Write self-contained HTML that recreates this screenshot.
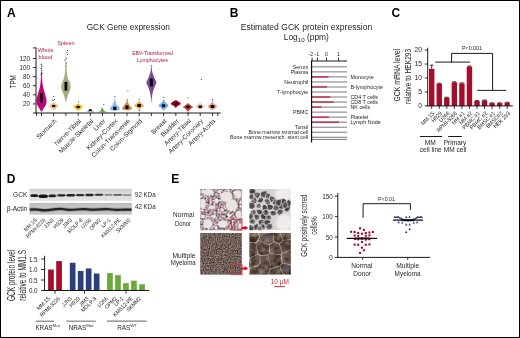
<!DOCTYPE html>
<html lang="en"><head><meta charset="utf-8"><title>GCK expression figure</title>
<style>
html,body{margin:0;padding:0;background:#fff;}
body{width:520px;height:338px;overflow:hidden;position:relative;}
svg{position:absolute;left:0;top:0;display:block;}
svg text{font-family:"Liberation Sans",sans-serif;}
</style></head><body>
<svg width="520" height="338" viewBox="0 0 520 338">
<rect x="0.5" y="0.5" width="519" height="337" fill="#fff" stroke="#000" stroke-width="1"/>
<g fill="#231f20">
<g id="pA">
<text x="6.90" y="16.60" font-size="12" fill="#000" font-weight="bold">A</text>
<text x="128.30" y="29.50" font-size="8.5" text-anchor="middle" textLength="83.3" lengthAdjust="spacingAndGlyphs">GCK Gene expression</text>
<path d="M41.65 63.50C41.72 64.92 41.71 69.25 41.80 72.00C41.89 74.75 41.98 77.50 42.20 80.00C42.42 82.50 42.62 84.67 43.10 87.00C43.58 89.33 44.52 91.75 45.10 94.00C45.68 96.25 46.50 98.67 46.60 100.50C46.70 102.33 46.25 103.58 45.70 105.00C45.15 106.42 43.97 107.87 43.30 109.00C42.62 110.13 41.97 111.33 41.65 111.80C41.33 112.27 41.67 112.27 41.35 111.80C41.03 111.33 40.38 110.13 39.70 109.00C39.03 107.87 37.85 106.42 37.30 105.00C36.75 103.58 36.30 102.33 36.40 100.50C36.50 98.67 37.32 96.25 37.90 94.00C38.48 91.75 39.42 89.33 39.90 87.00C40.38 84.67 40.58 82.50 40.80 80.00C41.02 77.50 41.11 74.75 41.20 72.00C41.29 69.25 41.28 64.92 41.35 63.50C41.42 62.08 41.58 62.08 41.65 63.50Z" fill="#c4007a"/>
<rect x="40.10" y="93.00" width="2.80" height="9.80" fill="#000" />
<path d="M53.91 102.20C54.38 102.50 55.53 103.37 56.31 104.00C57.09 104.63 58.58 105.33 58.61 106.00C58.64 106.67 57.29 107.33 56.51 108.00C55.73 108.67 54.41 109.67 53.91 110.00C53.41 110.33 54.01 110.33 53.51 110.00C53.01 109.67 51.69 108.67 50.91 108.00C50.13 107.33 48.78 106.67 48.81 106.00C48.84 105.33 50.33 104.63 51.11 104.00C51.89 103.37 53.04 102.50 53.51 102.20C53.98 101.90 53.44 101.90 53.91 102.20Z" fill="#f7c58c"/>
<rect x="52.11" y="104.90" width="3.20" height="2.20" fill="#000" />
<path d="M66.04 50.50C66.11 52.08 66.11 56.75 66.22 60.00C66.33 63.25 66.44 67.17 66.67 70.00C66.90 72.83 67.15 75.00 67.62 77.00C68.09 79.00 69.00 80.42 69.52 82.00C70.04 83.58 70.65 85.08 70.72 86.50C70.79 87.92 70.37 89.08 69.92 90.50C69.47 91.92 68.66 93.12 68.02 95.00C67.38 96.88 66.45 100.67 66.07 101.80C65.70 102.93 66.14 102.93 65.77 101.80C65.39 100.67 64.46 96.88 63.82 95.00C63.18 93.12 62.37 91.92 61.92 90.50C61.47 89.08 61.05 87.92 61.12 86.50C61.19 85.08 61.80 83.58 62.32 82.00C62.84 80.42 63.74 79.00 64.22 77.00C64.69 75.00 64.94 72.83 65.17 70.00C65.40 67.17 65.52 63.25 65.62 60.00C65.73 56.75 65.73 52.08 65.80 50.50C65.87 48.92 65.97 48.92 66.04 50.50Z" fill="#a3b07c"/>
<rect x="64.52" y="81.80" width="2.80" height="8.80" fill="#000" />
<path d="M78.33 103.40C78.80 103.67 79.95 104.40 80.73 105.00C81.51 105.60 83.03 106.33 83.03 107.00C83.03 107.67 81.51 108.37 80.73 109.00C79.95 109.63 78.80 110.50 78.33 110.80C77.86 111.10 78.40 111.10 77.93 110.80C77.46 110.50 76.31 109.63 75.53 109.00C74.75 108.37 73.23 107.67 73.23 107.00C73.23 106.33 74.75 105.60 75.53 105.00C76.31 104.40 77.46 103.67 77.93 103.40C78.40 103.13 77.86 103.13 78.33 103.40Z" fill="#f2c21c"/>
<rect x="76.53" y="105.90" width="3.20" height="2.20" fill="#000" />
<path d="M90.64 109.60C91.09 109.80 92.06 110.40 92.74 110.80C93.42 111.20 94.41 111.75 94.74 112.00C95.07 112.25 96.21 112.25 94.74 112.30C93.27 112.35 87.41 112.35 85.94 112.30C84.47 112.25 85.61 112.25 85.94 112.00C86.27 111.75 87.26 111.20 87.94 110.80C88.62 110.40 89.59 109.80 90.04 109.60C90.49 109.40 90.19 109.40 90.64 109.60Z" fill="#b5a6dc"/>
<rect x="88.74" y="109.60" width="3.00" height="1.30" fill="#000" />
<path d="M102.85 109.40C103.20 109.65 103.67 110.48 104.35 110.90C105.03 111.32 106.52 111.67 106.95 111.90C107.38 112.13 108.42 112.23 106.95 112.30C105.48 112.37 99.62 112.37 98.15 112.30C96.68 112.23 97.72 112.13 98.15 111.90C98.58 111.67 100.07 111.32 100.75 110.90C101.43 110.48 101.90 109.65 102.25 109.40C102.60 109.15 102.50 109.15 102.85 109.40Z" fill="#6cb33e"/>
<path d="M114.96 98.00C115.14 98.67 115.33 100.83 115.66 102.00C115.99 103.17 116.38 104.08 116.96 105.00C117.54 105.92 118.69 106.83 119.16 107.50C119.63 108.17 119.89 108.55 119.76 109.00C119.63 109.45 119.13 109.88 118.36 110.20C117.59 110.52 115.83 110.78 115.16 110.90C114.49 111.02 115.03 111.02 114.36 110.90C113.69 110.78 111.93 110.52 111.16 110.20C110.39 109.88 109.89 109.45 109.76 109.00C109.63 108.55 109.89 108.17 110.36 107.50C110.83 106.83 111.98 105.92 112.56 105.00C113.14 104.08 113.53 103.17 113.86 102.00C114.19 100.83 114.38 98.67 114.56 98.00C114.74 97.33 114.78 97.33 114.96 98.00Z" fill="#86bdf2"/>
<rect x="113.16" y="106.70" width="3.20" height="3.20" fill="#000" />
<path d="M127.17 100.00C127.42 100.50 127.77 102.00 128.27 103.00C128.77 104.00 129.55 105.12 130.17 106.00C130.79 106.88 131.80 107.70 131.97 108.30C132.14 108.90 131.92 109.23 131.17 109.60C130.42 109.97 128.25 110.35 127.47 110.50C126.69 110.65 127.25 110.65 126.47 110.50C125.69 110.35 123.52 109.97 122.77 109.60C122.02 109.23 121.80 108.90 121.97 108.30C122.14 107.70 123.15 106.88 123.77 106.00C124.39 105.12 125.17 104.00 125.67 103.00C126.17 102.00 126.52 100.50 126.77 100.00C127.02 99.50 126.92 99.50 127.17 100.00Z" fill="#c98e4b"/>
<rect x="125.37" y="105.50" width="3.20" height="3.50" fill="#000" />
<path d="M139.38 101.00C139.78 101.37 140.61 102.45 141.38 103.20C142.15 103.95 143.95 104.77 143.98 105.50C144.01 106.23 142.35 106.88 141.58 107.60C140.81 108.32 139.81 109.43 139.38 109.80C138.95 110.17 139.41 110.17 138.98 109.80C138.55 109.43 137.55 108.32 136.78 107.60C136.01 106.88 134.35 106.23 134.38 105.50C134.41 104.77 136.21 103.95 136.98 103.20C137.75 102.45 138.58 101.37 138.98 101.00C139.38 100.63 138.98 100.63 139.38 101.00Z" fill="#f2a93e"/>
<rect x="137.48" y="104.00" width="3.40" height="3.00" fill="#000" />
<path d="M151.54 66.00C151.72 67.00 151.82 70.00 152.29 72.00C152.77 74.00 153.71 76.23 154.39 78.00C155.07 79.77 156.36 81.10 156.39 82.60C156.42 84.10 155.22 85.27 154.59 87.00C153.96 88.73 153.10 90.75 152.59 93.00C152.08 95.25 151.77 99.25 151.54 100.50C151.32 101.75 151.47 101.75 151.24 100.50C151.02 99.25 150.70 95.25 150.19 93.00C149.68 90.75 148.82 88.73 148.19 87.00C147.56 85.27 146.36 84.10 146.39 82.60C146.42 81.10 147.71 79.77 148.39 78.00C149.07 76.23 150.02 74.00 150.49 72.00C150.97 70.00 151.06 67.00 151.24 66.00C151.42 65.00 151.37 65.00 151.54 66.00Z" fill="#7c4796"/>
<rect x="149.89" y="78.60" width="3.00" height="7.80" fill="#000" />
<path d="M163.80 100.40C164.23 100.83 165.20 102.13 166.00 103.00C166.80 103.87 168.60 104.77 168.60 105.60C168.60 106.43 166.80 107.22 166.00 108.00C165.20 108.78 164.23 109.92 163.80 110.30C163.37 110.68 163.83 110.68 163.40 110.30C162.97 109.92 162.00 108.78 161.20 108.00C160.40 107.22 158.60 106.43 158.60 105.60C158.60 104.77 160.40 103.87 161.20 103.00C162.00 102.13 162.97 100.83 163.40 100.40C163.83 99.97 163.37 99.97 163.80 100.40Z" fill="#62a9ea"/>
<rect x="162.00" y="104.30" width="3.20" height="2.80" fill="#000" />
<path d="M176.61 100.40C177.34 100.67 178.71 101.40 179.41 102.00C180.11 102.60 180.98 103.40 180.81 104.00C180.64 104.60 179.21 104.97 178.41 105.60C177.61 106.23 176.48 107.43 176.01 107.80C175.54 108.17 176.08 108.17 175.61 107.80C175.14 107.43 174.01 106.23 173.21 105.60C172.41 104.97 170.98 104.60 170.81 104.00C170.64 103.40 171.51 102.60 172.21 102.00C172.91 101.40 174.28 100.67 175.01 100.40C175.74 100.13 175.88 100.13 176.61 100.40Z" fill="#b00024"/>
<rect x="173.81" y="102.60" width="4.00" height="2.20" fill="#000" />
<path d="M188.22 103.30C188.69 103.63 189.82 104.67 190.62 105.30C191.42 105.93 193.05 106.45 193.02 107.10C192.99 107.75 191.22 108.47 190.42 109.20C189.62 109.93 188.65 111.12 188.22 111.50C187.79 111.88 188.25 111.88 187.82 111.50C187.39 111.12 186.42 109.93 185.62 109.20C184.82 108.47 183.05 107.75 183.02 107.10C182.99 106.45 184.62 105.93 185.42 105.30C186.22 104.67 187.35 103.63 187.82 103.30C188.29 102.97 187.75 102.97 188.22 103.30Z" fill="#c9403a"/>
<rect x="186.22" y="105.70" width="3.60" height="2.40" fill="#000" />
<path d="M200.43 102.60C200.90 102.97 202.08 104.13 202.83 104.80C203.58 105.47 204.93 106.00 204.93 106.60C204.93 107.20 203.58 107.83 202.83 108.40C202.08 108.97 200.90 109.73 200.43 110.00C199.96 110.27 200.50 110.27 200.03 110.00C199.56 109.73 198.38 108.97 197.63 108.40C196.88 107.83 195.53 107.20 195.53 106.60C195.53 106.00 196.88 105.47 197.63 104.80C198.38 104.13 199.56 102.97 200.03 102.60C200.50 102.23 199.96 102.23 200.43 102.60Z" fill="#f3cbbd"/>
<rect x="198.53" y="105.50" width="3.40" height="2.50" fill="#000" />
<path d="M212.64 101.90C213.11 102.32 214.29 103.65 215.04 104.40C215.79 105.15 217.14 105.73 217.14 106.40C217.14 107.07 215.79 107.80 215.04 108.40C214.29 109.00 213.11 109.73 212.64 110.00C212.17 110.27 212.71 110.27 212.24 110.00C211.77 109.73 210.59 109.00 209.84 108.40C209.09 107.80 207.74 107.07 207.74 106.40C207.74 105.73 209.09 105.15 209.84 104.40C210.59 103.65 211.77 102.32 212.24 101.90C212.71 101.48 212.17 101.48 212.64 101.90Z" fill="#ea9482"/>
<rect x="210.64" y="105.00" width="3.60" height="3.00" fill="#000" />
<circle cx="41.2" cy="64.5" r="0.55" fill="#222"/>
<circle cx="42.3" cy="66" r="0.55" fill="#222"/>
<circle cx="41" cy="68.5" r="0.55" fill="#222"/>
<circle cx="41.9" cy="70.5" r="0.55" fill="#222"/>
<circle cx="41.4" cy="72.5" r="0.55" fill="#222"/>
<circle cx="42.2" cy="73.5" r="0.55" fill="#222"/>
<circle cx="40.9" cy="74.5" r="0.55" fill="#222"/>
<circle cx="67.6" cy="50.5" r="0.55" fill="#222"/>
<circle cx="66.9" cy="52.5" r="0.55" fill="#222"/>
<circle cx="67.5" cy="54.5" r="0.55" fill="#222"/>
<circle cx="66.3" cy="58.5" r="0.55" fill="#222"/>
<circle cx="64.8" cy="60" r="0.55" fill="#222"/>
<circle cx="66.4" cy="63" r="0.55" fill="#222"/>
<circle cx="66" cy="66" r="0.55" fill="#222"/>
<circle cx="53.7" cy="96.5" r="0.55" fill="#222"/>
<circle cx="54.5" cy="99.5" r="0.55" fill="#222"/>
<circle cx="53.2" cy="100.5" r="0.55" fill="#222"/>
<circle cx="52.6" cy="100" r="0.55" fill="#222"/>
<circle cx="78.4" cy="101.8" r="0.55" fill="#222"/>
<circle cx="90.2" cy="109.2" r="0.55" fill="#222"/>
<circle cx="91.2" cy="109.9" r="0.55" fill="#222"/>
<circle cx="89.6" cy="109.5" r="0.55" fill="#222"/>
<circle cx="103.8" cy="104.5" r="0.55" fill="#222"/>
<circle cx="102" cy="108" r="0.55" fill="#222"/>
<circle cx="102.8" cy="109.3" r="0.55" fill="#222"/>
<circle cx="101.6" cy="109.9" r="0.55" fill="#222"/>
<circle cx="114.9" cy="96.5" r="0.55" fill="#222"/>
<circle cx="127.9" cy="91" r="0.55" fill="#222"/>
<circle cx="127.3" cy="99.8" r="0.55" fill="#222"/>
<circle cx="139.2" cy="99" r="0.55" fill="#222"/>
<circle cx="139.3" cy="110.4" r="0.55" fill="#222"/>
<circle cx="151.8" cy="65.8" r="0.55" fill="#222"/>
<circle cx="151.8" cy="101" r="0.55" fill="#222"/>
<circle cx="163.8" cy="97.5" r="0.55" fill="#222"/>
<circle cx="163.9" cy="100" r="0.55" fill="#222"/>
<circle cx="188.1" cy="98" r="0.55" fill="#222"/>
<circle cx="188.2" cy="112.8" r="0.55" fill="#222"/>
<circle cx="201.4" cy="79.5" r="0.55" fill="#222"/>
<circle cx="212.8" cy="99.5" r="0.55" fill="#222"/>
<circle cx="212.6" cy="101" r="0.55" fill="#222"/>
<line x1="36.00" y1="47.60" x2="36.00" y2="113.40" stroke="#000" stroke-width="0.9"/>
<line x1="35.60" y1="113.00" x2="220.80" y2="113.00" stroke="#000" stroke-width="0.9"/>
<line x1="32.90" y1="47.90" x2="36.00" y2="47.90" stroke="#000" stroke-width="0.8"/>
<line x1="32.90" y1="113.00" x2="36.00" y2="113.00" stroke="#000" stroke-width="0.8"/>
<line x1="32.90" y1="103.91" x2="36.00" y2="103.91" stroke="#000" stroke-width="0.8"/>
<line x1="32.90" y1="94.82" x2="36.00" y2="94.82" stroke="#000" stroke-width="0.8"/>
<line x1="32.90" y1="85.73" x2="36.00" y2="85.73" stroke="#000" stroke-width="0.8"/>
<line x1="32.90" y1="76.64" x2="36.00" y2="76.64" stroke="#000" stroke-width="0.8"/>
<line x1="32.90" y1="67.55" x2="36.00" y2="67.55" stroke="#000" stroke-width="0.8"/>
<line x1="32.90" y1="58.46" x2="36.00" y2="58.46" stroke="#000" stroke-width="0.8"/>
<text transform="translate(30.10 106.41) scale(0.9 1)" x="0" y="0" font-size="7" text-anchor="end">20</text>
<text transform="translate(30.10 97.32) scale(0.9 1)" x="0" y="0" font-size="7" text-anchor="end">40</text>
<text transform="translate(30.10 88.23) scale(0.9 1)" x="0" y="0" font-size="7" text-anchor="end">60</text>
<text transform="translate(30.10 79.14) scale(0.9 1)" x="0" y="0" font-size="7" text-anchor="end">80</text>
<text transform="translate(30.10 70.05) scale(0.9 1)" x="0" y="0" font-size="7" text-anchor="end">100</text>
<text transform="translate(30.10 60.96) scale(0.9 1)" x="0" y="0" font-size="7" text-anchor="end">120</text>
<line x1="36.60" y1="113.00" x2="36.60" y2="116.00" stroke="#000" stroke-width="0.8"/>
<line x1="41.50" y1="113.00" x2="41.50" y2="116.00" stroke="#000" stroke-width="0.8"/>
<line x1="53.71" y1="113.00" x2="53.71" y2="116.00" stroke="#000" stroke-width="0.8"/>
<line x1="65.92" y1="113.00" x2="65.92" y2="116.00" stroke="#000" stroke-width="0.8"/>
<line x1="78.13" y1="113.00" x2="78.13" y2="116.00" stroke="#000" stroke-width="0.8"/>
<line x1="90.34" y1="113.00" x2="90.34" y2="116.00" stroke="#000" stroke-width="0.8"/>
<line x1="102.55" y1="113.00" x2="102.55" y2="116.00" stroke="#000" stroke-width="0.8"/>
<line x1="114.76" y1="113.00" x2="114.76" y2="116.00" stroke="#000" stroke-width="0.8"/>
<line x1="126.97" y1="113.00" x2="126.97" y2="116.00" stroke="#000" stroke-width="0.8"/>
<line x1="139.18" y1="113.00" x2="139.18" y2="116.00" stroke="#000" stroke-width="0.8"/>
<line x1="151.39" y1="113.00" x2="151.39" y2="116.00" stroke="#000" stroke-width="0.8"/>
<line x1="163.60" y1="113.00" x2="163.60" y2="116.00" stroke="#000" stroke-width="0.8"/>
<line x1="175.81" y1="113.00" x2="175.81" y2="116.00" stroke="#000" stroke-width="0.8"/>
<line x1="188.02" y1="113.00" x2="188.02" y2="116.00" stroke="#000" stroke-width="0.8"/>
<line x1="200.23" y1="113.00" x2="200.23" y2="116.00" stroke="#000" stroke-width="0.8"/>
<line x1="212.44" y1="113.00" x2="212.44" y2="116.00" stroke="#000" stroke-width="0.8"/>
<line x1="217.80" y1="113.00" x2="217.80" y2="116.00" stroke="#000" stroke-width="0.8"/>
<text transform="translate(15.70 81.80) rotate(-90)" x="0" y="0" font-size="8.6" text-anchor="middle" textLength="13.4" lengthAdjust="spacingAndGlyphs">TPM</text>
<text transform="translate(57.11 121.40) rotate(-45)" x="0" y="0" font-size="6.5" text-anchor="end">Stomach</text>
<text transform="translate(81.53 121.40) rotate(-45)" x="0" y="0" font-size="6.5" text-anchor="end">Nerve-Tibial</text>
<text transform="translate(93.74 121.40) rotate(-45)" x="0" y="0" font-size="6.5" text-anchor="end">Muscle-Skeletal</text>
<text transform="translate(105.95 121.40) rotate(-45)" x="0" y="0" font-size="6.5" text-anchor="end">Liver</text>
<text transform="translate(118.16 121.40) rotate(-45)" x="0" y="0" font-size="6.5" text-anchor="end">Kidney-Cortex</text>
<text transform="translate(130.37 121.40) rotate(-45)" x="0" y="0" font-size="6.5" text-anchor="end">Colon-Transverse</text>
<text transform="translate(142.58 121.40) rotate(-45)" x="0" y="0" font-size="6.5" text-anchor="end">Colon-Sigmoid</text>
<text transform="translate(167.00 121.40) rotate(-45)" x="0" y="0" font-size="6.5" text-anchor="end">Breast</text>
<text transform="translate(179.21 121.40) rotate(-45)" x="0" y="0" font-size="6.5" text-anchor="end">Bladder</text>
<text transform="translate(191.42 121.40) rotate(-45)" x="0" y="0" font-size="6.5" text-anchor="end">Artery-Tibial</text>
<text transform="translate(203.63 121.40) rotate(-45)" x="0" y="0" font-size="6.5" text-anchor="end">Artery-Coronary</text>
<text transform="translate(215.84 121.40) rotate(-45)" x="0" y="0" font-size="6.5" text-anchor="end">Artery-Aorta</text>
<text x="45.60" y="52.00" font-size="5.6" text-anchor="middle" fill="#b4123f">Whole</text>
<text x="45.40" y="58.90" font-size="5.6" text-anchor="middle" fill="#b4123f" textLength="13.8" lengthAdjust="spacingAndGlyphs">blood</text>
<text x="66.00" y="44.50" font-size="5.6" text-anchor="middle" fill="#b4123f">Spleen</text>
<text x="152.55" y="55.00" font-size="5.6" text-anchor="middle" fill="#b4123f" textLength="40.7" lengthAdjust="spacingAndGlyphs">EBV-Transformed</text>
<text x="152.45" y="62.00" font-size="5.6" text-anchor="middle" fill="#b4123f" textLength="30.9" lengthAdjust="spacingAndGlyphs">Lymphocytes</text>
</g>
<g id="pB">
<text x="229.80" y="16.60" font-size="12" fill="#000" font-weight="bold">B</text>
<text x="306.50" y="29.70" font-size="8.4" text-anchor="middle" textLength="131.5" lengthAdjust="spacingAndGlyphs">Estimated GCK protein expression</text>
<text x="283.8" y="39.9" font-size="8.4">Log<tspan font-size="6.2" dy="1.7">10</tspan><tspan dy="-1.7"> (ppm)</tspan></text>
<line x1="311.60" y1="66.85" x2="347.00" y2="66.85" stroke="#7a7a7a" stroke-width="1.0"/>
<line x1="311.60" y1="71.88" x2="347.00" y2="71.88" stroke="#7a7a7a" stroke-width="1.0"/>
<line x1="311.60" y1="76.91" x2="347.00" y2="76.91" stroke="#7a7a7a" stroke-width="1.0"/>
<line x1="311.60" y1="76.91" x2="328.50" y2="76.91" stroke="#c8102e" stroke-width="1.2"/>
<line x1="311.60" y1="81.94" x2="347.00" y2="81.94" stroke="#7a7a7a" stroke-width="1.0"/>
<line x1="311.60" y1="86.97" x2="347.00" y2="86.97" stroke="#7a7a7a" stroke-width="1.0"/>
<line x1="311.60" y1="86.97" x2="327.00" y2="86.97" stroke="#c8102e" stroke-width="1.2"/>
<line x1="311.60" y1="92.00" x2="347.00" y2="92.00" stroke="#7a7a7a" stroke-width="1.0"/>
<line x1="311.60" y1="97.03" x2="347.00" y2="97.03" stroke="#7a7a7a" stroke-width="1.0"/>
<line x1="311.60" y1="97.03" x2="330.30" y2="97.03" stroke="#c8102e" stroke-width="1.2"/>
<line x1="311.60" y1="102.06" x2="347.00" y2="102.06" stroke="#7a7a7a" stroke-width="1.0"/>
<line x1="311.60" y1="102.06" x2="333.80" y2="102.06" stroke="#c8102e" stroke-width="1.2"/>
<line x1="311.60" y1="107.09" x2="347.00" y2="107.09" stroke="#7a7a7a" stroke-width="1.0"/>
<line x1="311.60" y1="107.09" x2="321.50" y2="107.09" stroke="#c8102e" stroke-width="1.2"/>
<line x1="311.60" y1="112.12" x2="347.00" y2="112.12" stroke="#7a7a7a" stroke-width="1.0"/>
<line x1="311.60" y1="117.15" x2="347.00" y2="117.15" stroke="#7a7a7a" stroke-width="1.0"/>
<line x1="311.60" y1="117.15" x2="328.80" y2="117.15" stroke="#c8102e" stroke-width="1.2"/>
<line x1="311.60" y1="122.18" x2="347.00" y2="122.18" stroke="#7a7a7a" stroke-width="1.0"/>
<line x1="311.60" y1="122.18" x2="339.00" y2="122.18" stroke="#c8102e" stroke-width="1.2"/>
<line x1="311.60" y1="127.21" x2="347.00" y2="127.21" stroke="#7a7a7a" stroke-width="1.0"/>
<line x1="311.60" y1="132.24" x2="347.00" y2="132.24" stroke="#7a7a7a" stroke-width="1.0"/>
<line x1="311.60" y1="137.27" x2="347.00" y2="137.27" stroke="#7a7a7a" stroke-width="1.0"/>
<line x1="311.60" y1="139.40" x2="347.00" y2="139.40" stroke="#7a7a7a" stroke-width="1.0"/>
<line x1="311.60" y1="60.40" x2="311.60" y2="142.60" stroke="#000" stroke-width="1.1"/>
<line x1="311.20" y1="61.00" x2="347.00" y2="61.00" stroke="#000" stroke-width="0.9"/>
<line x1="312.10" y1="57.50" x2="312.10" y2="60.80" stroke="#000" stroke-width="0.8"/>
<line x1="317.40" y1="57.50" x2="317.40" y2="60.80" stroke="#000" stroke-width="0.8"/>
<line x1="326.50" y1="57.50" x2="326.50" y2="60.80" stroke="#000" stroke-width="0.8"/>
<line x1="338.60" y1="57.50" x2="338.60" y2="60.80" stroke="#000" stroke-width="0.8"/>
<text x="310.80" y="55.50" font-size="5.3" text-anchor="middle">-2</text>
<text x="316.80" y="55.50" font-size="5.3" text-anchor="middle">-1</text>
<text x="326.50" y="55.50" font-size="5.3" text-anchor="middle">0</text>
<text x="338.60" y="55.50" font-size="5.3" text-anchor="middle">1</text>
<text x="308.30" y="68.75" font-size="5.3" text-anchor="end">Serum</text>
<text x="308.30" y="73.78" font-size="5.3" text-anchor="end">Plasma</text>
<text x="308.30" y="83.84" font-size="5.3" text-anchor="end">Neutrophil</text>
<text x="308.30" y="93.90" font-size="5.3" text-anchor="end">T-lymphocyte</text>
<text x="308.30" y="114.02" font-size="5.3" text-anchor="end">PBMC</text>
<text x="308.30" y="129.11" font-size="5.3" text-anchor="end">Tonsil</text>
<text x="308.30" y="134.14" font-size="5.3" text-anchor="end">Bone marrow stromal cell</text>
<text x="308.30" y="139.17" font-size="5.3" text-anchor="end">Bone marrow mesench. stem cell</text>
<text x="350.40" y="78.81" font-size="5.4">Monocyte</text>
<text x="350.40" y="88.87" font-size="5.4">B-lymphocyte</text>
<text x="350.40" y="98.93" font-size="5.4">CD4 T cells</text>
<text x="350.40" y="103.96" font-size="5.4">CD8 T cells</text>
<text x="350.40" y="108.99" font-size="5.4">NK cells</text>
<text x="350.40" y="119.05" font-size="5.4">Platelet</text>
<text x="350.40" y="124.08" font-size="5.4">Lymph Node</text>
</g>
<g id="pC">
<text x="391.50" y="16.60" font-size="12" fill="#000" font-weight="bold">C</text>
<line x1="431.70" y1="65.17" x2="431.70" y2="68.79" stroke="#000" stroke-width="0.8"/>
<line x1="429.90" y1="65.17" x2="433.50" y2="65.17" stroke="#000" stroke-width="0.8"/>
<rect x="429.00" y="68.79" width="5.40" height="37.11" fill="#a50d2d" />
<line x1="439.25" y1="83.16" x2="439.25" y2="83.58" stroke="#000" stroke-width="0.8"/>
<line x1="437.45" y1="83.16" x2="441.05" y2="83.16" stroke="#000" stroke-width="0.8"/>
<rect x="436.55" y="83.58" width="5.40" height="22.32" fill="#a50d2d" />
<line x1="446.80" y1="97.25" x2="446.80" y2="97.53" stroke="#000" stroke-width="0.8"/>
<line x1="445.00" y1="97.25" x2="448.60" y2="97.25" stroke="#000" stroke-width="0.8"/>
<rect x="444.10" y="97.53" width="5.40" height="8.37" fill="#a50d2d" />
<line x1="454.35" y1="81.77" x2="454.35" y2="82.19" stroke="#000" stroke-width="0.8"/>
<line x1="452.55" y1="81.77" x2="456.15" y2="81.77" stroke="#000" stroke-width="0.8"/>
<rect x="451.65" y="82.19" width="5.40" height="23.72" fill="#a50d2d" />
<line x1="461.90" y1="82.88" x2="461.90" y2="83.30" stroke="#000" stroke-width="0.8"/>
<line x1="460.10" y1="82.88" x2="463.70" y2="82.88" stroke="#000" stroke-width="0.8"/>
<rect x="459.20" y="83.30" width="5.40" height="22.60" fill="#a50d2d" />
<line x1="469.45" y1="66.00" x2="469.45" y2="66.56" stroke="#000" stroke-width="0.8"/>
<line x1="467.65" y1="66.00" x2="471.25" y2="66.00" stroke="#000" stroke-width="0.8"/>
<rect x="466.75" y="66.56" width="5.40" height="39.34" fill="#a50d2d" />
<line x1="477.00" y1="100.60" x2="477.00" y2="100.88" stroke="#000" stroke-width="0.8"/>
<line x1="475.20" y1="100.60" x2="478.80" y2="100.60" stroke="#000" stroke-width="0.8"/>
<rect x="474.30" y="100.88" width="5.40" height="5.02" fill="#a50d2d" />
<line x1="484.55" y1="100.04" x2="484.55" y2="100.32" stroke="#000" stroke-width="0.8"/>
<line x1="482.75" y1="100.04" x2="486.35" y2="100.04" stroke="#000" stroke-width="0.8"/>
<rect x="481.85" y="100.32" width="5.40" height="5.58" fill="#a50d2d" />
<line x1="492.10" y1="102.83" x2="492.10" y2="103.11" stroke="#000" stroke-width="0.8"/>
<line x1="490.30" y1="102.83" x2="493.90" y2="102.83" stroke="#000" stroke-width="0.8"/>
<rect x="489.40" y="103.11" width="5.40" height="2.79" fill="#a50d2d" />
<line x1="499.65" y1="102.83" x2="499.65" y2="103.11" stroke="#000" stroke-width="0.8"/>
<line x1="497.85" y1="102.83" x2="501.45" y2="102.83" stroke="#000" stroke-width="0.8"/>
<rect x="496.95" y="103.11" width="5.40" height="2.79" fill="#a50d2d" />
<line x1="507.20" y1="102.27" x2="507.20" y2="102.55" stroke="#000" stroke-width="0.8"/>
<line x1="505.40" y1="102.27" x2="509.00" y2="102.27" stroke="#000" stroke-width="0.8"/>
<rect x="504.50" y="102.55" width="5.40" height="3.35" fill="#a50d2d" />
<line x1="427.70" y1="47.80" x2="427.70" y2="106.30" stroke="#000" stroke-width="0.9"/>
<line x1="427.30" y1="105.90" x2="512.80" y2="105.90" stroke="#000" stroke-width="0.9"/>
<line x1="424.70" y1="105.90" x2="427.70" y2="105.90" stroke="#000" stroke-width="0.8"/>
<text transform="translate(422.10 108.20) scale(0.97 1)" x="0" y="0" font-size="7.0" text-anchor="end">0</text>
<line x1="424.70" y1="91.95" x2="427.70" y2="91.95" stroke="#000" stroke-width="0.8"/>
<text transform="translate(422.10 94.25) scale(0.97 1)" x="0" y="0" font-size="7.0" text-anchor="end">5</text>
<line x1="424.70" y1="78.00" x2="427.70" y2="78.00" stroke="#000" stroke-width="0.8"/>
<text transform="translate(422.10 80.30) scale(0.97 1)" x="0" y="0" font-size="7.0" text-anchor="end">10</text>
<line x1="424.70" y1="64.05" x2="427.70" y2="64.05" stroke="#000" stroke-width="0.8"/>
<text transform="translate(422.10 66.35) scale(0.97 1)" x="0" y="0" font-size="7.0" text-anchor="end">15</text>
<line x1="424.70" y1="50.10" x2="427.70" y2="50.10" stroke="#000" stroke-width="0.8"/>
<text transform="translate(422.10 52.40) scale(0.97 1)" x="0" y="0" font-size="7.0" text-anchor="end">20</text>
<line x1="431.70" y1="105.90" x2="431.70" y2="108.90" stroke="#000" stroke-width="0.8"/>
<line x1="439.25" y1="105.90" x2="439.25" y2="108.90" stroke="#000" stroke-width="0.8"/>
<line x1="446.80" y1="105.90" x2="446.80" y2="108.90" stroke="#000" stroke-width="0.8"/>
<line x1="454.35" y1="105.90" x2="454.35" y2="108.90" stroke="#000" stroke-width="0.8"/>
<line x1="461.90" y1="105.90" x2="461.90" y2="108.90" stroke="#000" stroke-width="0.8"/>
<line x1="469.45" y1="105.90" x2="469.45" y2="108.90" stroke="#000" stroke-width="0.8"/>
<line x1="477.00" y1="105.90" x2="477.00" y2="108.90" stroke="#000" stroke-width="0.8"/>
<line x1="484.55" y1="105.90" x2="484.55" y2="108.90" stroke="#000" stroke-width="0.8"/>
<line x1="492.10" y1="105.90" x2="492.10" y2="108.90" stroke="#000" stroke-width="0.8"/>
<line x1="499.65" y1="105.90" x2="499.65" y2="108.90" stroke="#000" stroke-width="0.8"/>
<line x1="507.20" y1="105.90" x2="507.20" y2="108.90" stroke="#000" stroke-width="0.8"/>
<text transform="translate(435.00 113.80) rotate(-45) scale(0.92 1)" x="0" y="0" font-size="5.7" text-anchor="end">MM.1S</text>
<text transform="translate(442.55 113.80) rotate(-45) scale(0.92 1)" x="0" y="0" font-size="5.7" text-anchor="end">H929</text>
<text transform="translate(450.10 113.80) rotate(-45) scale(0.92 1)" x="0" y="0" font-size="5.7" text-anchor="end">U266</text>
<text transform="translate(457.65 113.80) rotate(-45) scale(0.92 1)" x="0" y="0" font-size="5.7" text-anchor="end">RPMI-8266</text>
<text transform="translate(465.20 113.80) rotate(-45) scale(0.92 1)" x="0" y="0" font-size="5.7" text-anchor="end">MM #1</text>
<text transform="translate(472.75 113.80) rotate(-45) scale(0.92 1)" x="0" y="0" font-size="5.7" text-anchor="end">MM #2</text>
<text transform="translate(480.30 113.80) rotate(-45) scale(0.92 1)" x="0" y="0" font-size="5.7" text-anchor="end">PBMC #1</text>
<text transform="translate(487.85 113.80) rotate(-45) scale(0.92 1)" x="0" y="0" font-size="5.7" text-anchor="end">PBMC #2</text>
<text transform="translate(495.40 113.80) rotate(-45) scale(0.92 1)" x="0" y="0" font-size="5.7" text-anchor="end">BMSC #1</text>
<text transform="translate(502.95 113.80) rotate(-45) scale(0.92 1)" x="0" y="0" font-size="5.7" text-anchor="end">BMSC#2</text>
<text transform="translate(510.50 113.80) rotate(-45) scale(0.92 1)" x="0" y="0" font-size="5.7" text-anchor="end">HEK 293</text>
<text x="472.00" y="50.30" font-size="5.3" text-anchor="middle">P&lt;0.001</text>
<path d="M451.6 62.1V53.4H492.6V90.4M435.3 62.1H470M477.3 90.4H506.2" fill="none" stroke="#000" stroke-width="0.9"/>
<text transform="translate(400.40 75.20) rotate(-90)" x="0" y="0" font-size="9" text-anchor="middle" textLength="52.8" lengthAdjust="spacingAndGlyphs">GCK mRNA level</text>
<text transform="translate(411.00 76.40) rotate(-90)" x="0" y="0" font-size="9" text-anchor="middle" textLength="55.2" lengthAdjust="spacingAndGlyphs">relative to HEK293</text>
<line x1="419.90" y1="136.50" x2="442.20" y2="136.50" stroke="#000" stroke-width="0.9"/>
<line x1="448.10" y1="136.50" x2="461.80" y2="136.50" stroke="#000" stroke-width="0.9"/>
<text x="430.20" y="144.60" font-size="6.6" text-anchor="middle">MM</text>
<text x="430.80" y="152.20" font-size="6.6" text-anchor="middle">cell line</text>
<text x="455.00" y="144.60" font-size="6.6" text-anchor="middle">Primary</text>
<text x="455.00" y="152.20" font-size="6.6" text-anchor="middle">MM cell</text>
</g>
<g id="pD">
<text x="6.80" y="183.20" font-size="12" fill="#000" font-weight="bold">D</text>
<defs><filter id="bl" x="-5%" y="-50%" width="110%" height="200%"><feGaussianBlur stdDeviation="0.55"/></filter></defs>
<linearGradient id="g1" x1="0" y1="0" x2="0" y2="1"><stop offset="0" stop-color="#cfcfcf"/><stop offset="0.45" stop-color="#dcdcdc"/><stop offset="1" stop-color="#e2e2e2"/></linearGradient>
<linearGradient id="g2" x1="0" y1="0" x2="0" y2="1"><stop offset="0" stop-color="#bdbdbd"/><stop offset="0.5" stop-color="#cacaca"/><stop offset="1" stop-color="#c2c2c2"/></linearGradient>
<rect x="29.40" y="188.70" width="102.50" height="12.10" fill="url(#g1)" />
<rect x="29.40" y="202.90" width="102.50" height="11.70" fill="url(#g2)" />
<clipPath id="cb"><rect x="29.4" y="188.7" width="102.5" height="12.1"/><rect x="29.4" y="202.9" width="102.5" height="11.7"/></clipPath>
<g clip-path="url(#cb)"><g filter="url(#bl)">
<path d="M30.4 195.9L47 196.3L60 195.4L80 195.2L103 194.7" fill="none" stroke="#8e8e8e" stroke-width="1.6"/>
<path d="M103 194.8L131.5 195" fill="none" stroke="#b8b8b8" stroke-width="1.4"/>
<rect x="30.6" y="194.30" width="7.30" height="2.8" rx="1.40" fill="#1e1e1e"/>
<rect x="38.7" y="194.40" width="9.10" height="3.6" rx="1.80" fill="#141414"/>
<rect x="48.8" y="194.50" width="7.00" height="2.8" rx="1.40" fill="#222"/>
<rect x="57.6" y="194.15" width="7.60" height="2.3" rx="1.15" fill="#2a2a2a"/>
<rect x="66.8" y="194.00" width="7.90" height="2.6" rx="1.30" fill="#222"/>
<rect x="76.3" y="194.00" width="7.60" height="2.2" rx="1.10" fill="#2e2e2e"/>
<rect x="85.7" y="193.85" width="7.60" height="2.3" rx="1.15" fill="#282828"/>
<rect x="95.3" y="193.75" width="7.50" height="1.9" rx="0.95" fill="#363636"/>
<rect x="104.8" y="194.20" width="7.40" height="1.4" rx="0.70" fill="#747474"/>
<rect x="113.5" y="194.05" width="8.20" height="1.7" rx="0.85" fill="#646464"/>
<rect x="123.1" y="194.40" width="8.10" height="1.4" rx="0.70" fill="#848484"/>
<path d="M29.6 209.7 Q36 208.8 40 209.9 T52 209.7 T64 209.3 T76 209.5 T88 209.3 T100 209.3 T112 209.5 T124 209.5 L131.7 209.7" fill="none" stroke="#a4a4a4" stroke-width="4.2"/>
<path d="M29.6 209.7 Q36 208.8 40 209.9 T52 209.7 T64 209.3 T76 209.5 T88 209.3 T100 209.3 T112 209.5 T124 209.5 L131.7 209.7" fill="none" stroke="#202020" stroke-width="2.2"/>
</g></g>
<text x="27.30" y="196.50" font-size="6.6" text-anchor="end">GCK</text>
<text x="27.30" y="210.60" font-size="6.6" text-anchor="end">β-Actin</text>
<text x="135.00" y="196.80" font-size="6.6" textLength="20.6" lengthAdjust="spacingAndGlyphs">92 KDa</text>
<text x="135.00" y="209.30" font-size="6.6" textLength="20.6" lengthAdjust="spacingAndGlyphs">42 KDa</text>
<text transform="translate(37.30 220.40) rotate(-45) scale(0.92 1)" x="0" y="0" font-size="5.5" text-anchor="end">MM.1S</text>
<text transform="translate(46.00 220.40) rotate(-45) scale(0.92 1)" x="0" y="0" font-size="5.5" text-anchor="end">RPMI-8226</text>
<text transform="translate(54.20 220.40) rotate(-45) scale(0.92 1)" x="0" y="0" font-size="5.5" text-anchor="end">JJN3</text>
<text transform="translate(64.10 220.40) rotate(-45) scale(0.92 1)" x="0" y="0" font-size="5.5" text-anchor="end">H929</text>
<text transform="translate(72.40 220.40) rotate(-45) scale(0.92 1)" x="0" y="0" font-size="5.5" text-anchor="end">JIM3</text>
<text transform="translate(82.90 220.40) rotate(-45) scale(0.92 1)" x="0" y="0" font-size="5.5" text-anchor="end">MOLP-8</text>
<text transform="translate(91.70 220.40) rotate(-45) scale(0.92 1)" x="0" y="0" font-size="5.5" text-anchor="end">U266</text>
<text transform="translate(101.60 220.40) rotate(-45) scale(0.92 1)" x="0" y="0" font-size="5.5" text-anchor="end">OPM2</text>
<text transform="translate(111.00 220.40) rotate(-45) scale(0.92 1)" x="0" y="0" font-size="5.5" text-anchor="end">LP-1</text>
<text transform="translate(121.00 220.40) rotate(-45) scale(0.92 1)" x="0" y="0" font-size="5.5" text-anchor="end">KMS12-PE</text>
<text transform="translate(131.00 220.40) rotate(-45) scale(0.92 1)" x="0" y="0" font-size="5.5" text-anchor="end">SKMM2</text>
<rect x="48.10" y="269.50" width="5.70" height="21.00" fill="#a50d2d" />
<rect x="56.20" y="261.10" width="5.70" height="29.40" fill="#a50d2d" />
<rect x="69.80" y="262.78" width="5.70" height="27.72" fill="#2b3f7c" />
<rect x="77.80" y="270.97" width="5.70" height="19.53" fill="#2b3f7c" />
<rect x="85.80" y="268.45" width="5.70" height="22.05" fill="#2b3f7c" />
<rect x="93.80" y="273.49" width="5.70" height="17.01" fill="#2b3f7c" />
<rect x="107.10" y="273.07" width="5.70" height="17.43" fill="#6aaa3c" />
<rect x="115.10" y="275.17" width="5.70" height="15.33" fill="#6aaa3c" />
<rect x="123.10" y="283.15" width="5.70" height="7.35" fill="#6aaa3c" />
<rect x="131.10" y="280.63" width="5.70" height="9.87" fill="#6aaa3c" />
<rect x="139.20" y="284.20" width="5.70" height="6.30" fill="#6aaa3c" />
<line x1="44.60" y1="255.80" x2="44.60" y2="290.90" stroke="#000" stroke-width="0.9"/>
<line x1="44.20" y1="290.50" x2="149.30" y2="290.50" stroke="#000" stroke-width="0.9"/>
<line x1="41.00" y1="290.50" x2="44.60" y2="290.50" stroke="#000" stroke-width="0.8"/>
<text transform="translate(37.60 293.00) scale(0.87 1)" x="0" y="0" font-size="7.2" text-anchor="end">0.0</text>
<line x1="41.00" y1="280.00" x2="44.60" y2="280.00" stroke="#000" stroke-width="0.8"/>
<text transform="translate(37.60 282.50) scale(0.87 1)" x="0" y="0" font-size="7.2" text-anchor="end">0.5</text>
<line x1="41.00" y1="269.50" x2="44.60" y2="269.50" stroke="#000" stroke-width="0.8"/>
<text transform="translate(37.60 272.00) scale(0.87 1)" x="0" y="0" font-size="7.2" text-anchor="end">1.0</text>
<line x1="41.00" y1="259.00" x2="44.60" y2="259.00" stroke="#000" stroke-width="0.8"/>
<text transform="translate(37.60 261.50) scale(0.87 1)" x="0" y="0" font-size="7.2" text-anchor="end">1.5</text>
<line x1="55.00" y1="290.50" x2="55.00" y2="293.70" stroke="#000" stroke-width="0.8"/>
<line x1="84.50" y1="290.50" x2="84.50" y2="293.70" stroke="#000" stroke-width="0.8"/>
<line x1="126.00" y1="290.50" x2="126.00" y2="293.70" stroke="#000" stroke-width="0.8"/>
<text transform="translate(50.50 298.90) rotate(-45) scale(0.92 1)" x="0" y="0" font-size="5.6" text-anchor="end">MM.1S</text>
<text transform="translate(60.50 298.90) rotate(-45) scale(0.92 1)" x="0" y="0" font-size="5.6" text-anchor="end">RPMI-8226</text>
<text transform="translate(72.20 298.90) rotate(-45) scale(0.92 1)" x="0" y="0" font-size="5.6" text-anchor="end">JJN3</text>
<text transform="translate(80.20 298.90) rotate(-45) scale(0.92 1)" x="0" y="0" font-size="5.6" text-anchor="end">H929</text>
<text transform="translate(89.10 298.90) rotate(-45) scale(0.92 1)" x="0" y="0" font-size="5.6" text-anchor="end">JIM3</text>
<text transform="translate(96.80 298.90) rotate(-45) scale(0.92 1)" x="0" y="0" font-size="5.6" text-anchor="end">MOLP-8</text>
<text transform="translate(108.25 298.90) rotate(-45) scale(0.92 1)" x="0" y="0" font-size="5.6" text-anchor="end">U266</text>
<text transform="translate(117.25 298.90) rotate(-45) scale(0.92 1)" x="0" y="0" font-size="5.6" text-anchor="end">OPM2</text>
<text transform="translate(123.90 298.90) rotate(-45) scale(0.92 1)" x="0" y="0" font-size="5.6" text-anchor="end">LP-1</text>
<text transform="translate(133.25 298.90) rotate(-45) scale(0.92 1)" x="0" y="0" font-size="5.6" text-anchor="end">KMS12-PE</text>
<text transform="translate(141.60 298.90) rotate(-45) scale(0.92 1)" x="0" y="0" font-size="5.6" text-anchor="end">SKMM2</text>
<text transform="translate(15.40 275.30) rotate(-90)" x="0" y="0" font-size="10" text-anchor="middle" textLength="51.6" lengthAdjust="spacingAndGlyphs">GCK protein level</text>
<text transform="translate(25.50 275.30) rotate(-90)" x="0" y="0" font-size="10" text-anchor="middle" textLength="50.8" lengthAdjust="spacingAndGlyphs">relative to MM1.S</text>
<line x1="35.90" y1="321.20" x2="54.00" y2="321.20" stroke="#808080" stroke-width="1.2"/>
<line x1="66.30" y1="321.20" x2="95.90" y2="321.20" stroke="#808080" stroke-width="1.2"/>
<line x1="107.00" y1="321.20" x2="146.50" y2="321.20" stroke="#808080" stroke-width="1.2"/>
<text x="47.6" y="329.6" font-size="6.3" text-anchor="middle">KRAS<tspan font-size="4.3" dy="-2.3">Mut</tspan></text>
<text x="81" y="329.6" font-size="6.3" text-anchor="middle">NRAS<tspan font-size="4.3" dy="-2.3">Mut</tspan></text>
<text x="127" y="329.6" font-size="6.3" text-anchor="middle">RAS<tspan font-size="4.3" dy="-2.3">WT</tspan></text>
</g>
<g id="pE">
<text x="171.30" y="183.20" font-size="12" fill="#000" font-weight="bold">E</text>
<defs>
<clipPath id="c1"><rect x="200.4" y="188.9" width="41.3" height="41.4"/></clipPath>
<clipPath id="c2"><rect x="249.4" y="188.9" width="41.3" height="41.4"/></clipPath>
<clipPath id="c3"><rect x="200.4" y="233.1" width="41.3" height="41.4"/></clipPath>
<clipPath id="c4"><rect x="249.4" y="233.1" width="41.3" height="41.4"/></clipPath>
<filter id="b3" x="-10%" y="-10%" width="120%" height="120%"><feGaussianBlur stdDeviation="0.35"/></filter>
<filter id="b5" x="-10%" y="-10%" width="120%" height="120%"><feGaussianBlur stdDeviation="0.6"/></filter>
<filter id="b4" x="-10%" y="-10%" width="120%" height="120%"><feGaussianBlur stdDeviation="1.2"/></filter>
<filter id="n1" x="0" y="0" width="100%" height="100%" color-interpolation-filters="sRGB"><feTurbulence type="fractalNoise" baseFrequency="0.5" numOctaves="2" seed="9"/><feColorMatrix type="matrix" values="0 0 0 1.15 0.10  0 0 0 1.3 -0.06  0 0 0 1.22 0.0  0 0 0 0 1"/></filter>
<filter id="n3" x="0" y="0" width="100%" height="100%" color-interpolation-filters="sRGB"><feTurbulence type="fractalNoise" baseFrequency="0.85" numOctaves="2" seed="4"/><feColorMatrix type="matrix" values="0 0 0 0.72 0.075  0 0 0 0.68 0.03  0 0.06 0 0.64 -0.005  0 0 0 0 1"/><feGaussianBlur stdDeviation="0.35"/></filter>
<filter id="n4" x="0" y="0" width="100%" height="100%" color-interpolation-filters="sRGB"><feTurbulence type="fractalNoise" baseFrequency="0.16" numOctaves="2" seed="2"/><feColorMatrix type="matrix" values="0 0 0 1.6 -0.22  0 0 0 1.6 -0.3  0 0 0 1.6 -0.34  0 0 0 0 1"/></filter>
</defs>
<g clip-path="url(#c1)">
<rect x="200.40" y="188.90" width="41.30" height="41.40" fill="#b7a9ad" />
<rect x="200.4" y="188.9" width="41.3" height="41.4" filter="url(#n1)"/>
<g filter="url(#b3)">
<ellipse cx="226.4" cy="196.7" rx="5.98" ry="5.17" fill="#e9e5e3"/>
<ellipse cx="231.6" cy="205.4" rx="5.75" ry="5.75" fill="#e9e5e3"/>
<ellipse cx="202.3" cy="203.8" rx="3.45" ry="5.06" fill="#e9e5e3"/>
<ellipse cx="207.9" cy="223.8" rx="4.60" ry="4.60" fill="#e9e5e3"/>
<ellipse cx="208.7" cy="192.3" rx="5.06" ry="3.10" fill="#e9e5e3"/>
<ellipse cx="222.9" cy="224.0" rx="4.94" ry="3.45" fill="#e9e5e3"/>
<ellipse cx="237.9" cy="194.3" rx="3.22" ry="4.14" fill="#e9e5e3"/>
<ellipse cx="211.5" cy="207.3" rx="2.53" ry="1.95" fill="#e9e5e3"/>
<ellipse cx="238.6" cy="214.5" rx="2.76" ry="3.68" fill="#e9e5e3"/>
<ellipse cx="219.3" cy="191.6" rx="1.72" ry="1.61" fill="#e9e5e3"/>
<ellipse cx="203" cy="216.4" rx="2.07" ry="1.95" fill="#e9e5e3"/>
<ellipse cx="216.5" cy="200.5" rx="1.84" ry="2.53" fill="#e9e5e3"/>
<ellipse cx="214" cy="216.5" rx="2.07" ry="1.72" fill="#e9e5e3"/>
<ellipse cx="222" cy="210" rx="1.72" ry="1.49" fill="#e9e5e3"/>
<ellipse cx="203.5" cy="191.5" rx="2.07" ry="1.84" fill="#e9e5e3"/>
<ellipse cx="229.5" cy="215.5" rx="1.84" ry="1.61" fill="#e9e5e3"/>
<ellipse cx="216" cy="227.5" rx="1.49" ry="1.84" fill="#e9e5e3"/>
<ellipse cx="240" cy="226" rx="1.61" ry="2.88" fill="#e9e5e3"/>
</g></g>
<g clip-path="url(#c2)">
<rect x="249.40" y="188.90" width="41.30" height="41.40" fill="#d6d2d0" />
<g filter="url(#b4)">
<ellipse cx="283.5" cy="194" rx="8.5" ry="7.5" fill="#efedec"/>
<ellipse cx="284" cy="222.5" rx="8" ry="8.5" fill="#efedec"/>
<ellipse cx="252" cy="205.5" rx="3.2" ry="5.5" fill="#ebe8e7"/>
<ellipse cx="262" cy="228" rx="3" ry="2" fill="#e6e3e2"/>
</g><g filter="url(#b3)">
<path d="M252.3 194.7L249.1 193.4L249.0 189.6L252.5 188.1L255.4 190.1L255.8 193.8Z" fill="#4e484b" stroke="#d9d5d3" stroke-width="0.7"/>
<path d="M253.5 193.0L252.2 193.2L251.4 192.1L252.3 191.0L253.3 191.8Z" fill="#39323a" />
<path d="M255.1 196.7L253.8 193.4L257.2 192.2L260.6 193.1L259.6 196.3L257.6 198.8Z" fill="#565053" stroke="#d9d5d3" stroke-width="0.7"/>
<path d="M257.5 193.8L257.7 195.0L256.6 196.1L255.4 194.8L256.3 193.6Z" fill="#8a8385" />
<path d="M260.2 192.9L263.0 191.2L266.7 190.8L267.3 194.7L264.9 197.9L260.9 196.7Z" fill="#565053" stroke="#d9d5d3" stroke-width="0.7"/>
<path d="M264.0 193.3L263.8 194.5L262.4 194.9L261.9 193.4L263.0 192.4Z" fill="#4f484a" />
<path d="M270.8 197.2L268.3 198.8L265.0 198.1L265.6 194.9L267.7 192.7L270.2 194.4Z" fill="#6d6667" stroke="#d9d5d3" stroke-width="0.7"/>
<path d="M268.7 193.8L269.5 195.0L269.5 196.4L268.0 196.2L267.5 194.9Z" fill="#4f484a" />
<path d="M251.0 202.0L251.9 198.5L255.5 196.8L257.0 200.2L256.6 202.8L253.6 204.7Z" fill="#625b5e" stroke="#d9d5d3" stroke-width="0.7"/>
<path d="M252.9 200.5L254.2 199.8L255.5 200.1L255.3 201.7L253.6 202.0Z" fill="#8a8385" />
<path d="M257.0 201.9L258.7 198.6L261.3 196.9L263.7 199.0L263.0 201.7L260.6 203.0Z" fill="#625b5e" stroke="#d9d5d3" stroke-width="0.7"/>
<path d="M259.9 201.8L259.1 200.4L260.0 199.2L261.2 199.9L261.3 201.2Z" fill="#3a3436" />
<path d="M270.4 203.3L267.4 205.8L265.3 202.8L264.0 199.8L267.3 198.6L269.7 200.2Z" fill="#625b5e" stroke="#d9d5d3" stroke-width="0.7"/>
<path d="M265.9 201.2L267.4 201.4L267.8 202.5L266.9 203.8L265.7 202.8Z" fill="#8a8385" />
<path d="M269.6 196.0L273.0 196.4L275.4 198.1L274.1 200.7L271.1 202.6L269.5 199.4Z" fill="#565053" stroke="#d9d5d3" stroke-width="0.7"/>
<path d="M273.5 200.0L271.8 200.1L271.7 198.4L273.0 197.9L273.9 198.8Z" fill="#8a8385" />
<path d="M273.0 204.5L272.4 201.7L274.8 198.8L278.6 200.6L278.3 204.6L275.4 206.3Z" fill="#777073" stroke="#d9d5d3" stroke-width="0.7"/>
<path d="M273.4 202.9L274.4 201.9L275.4 202.6L275.7 204.0L274.2 204.0Z" fill="#4f484a" />
<path d="M268.2 204.0L271.6 204.7L273.9 207.2L271.6 209.8L268.6 210.2L266.3 207.4Z" fill="#4e484b" stroke="#d9d5d3" stroke-width="0.7"/>
<path d="M271.4 208.4L269.9 207.9L269.6 206.4L271.0 206.0L271.8 206.9Z" fill="#4f484a" />
<path d="M278.0 204.7L280.4 207.6L278.3 210.4L275.1 211.3L272.8 208.4L274.2 204.8Z" fill="#6d6667" stroke="#d9d5d3" stroke-width="0.7"/>
<path d="M277.9 206.7L278.1 208.0L277.0 208.6L276.2 207.8L276.4 206.2Z" fill="#4f484a" />
<path d="M283.7 202.3L284.8 205.9L283.3 209.1L279.6 209.1L277.8 205.8L280.2 203.6Z" fill="#565053" stroke="#d9d5d3" stroke-width="0.7"/>
<path d="M281.1 207.7L280.1 206.5L281.2 205.5L282.8 205.6L282.3 207.1Z" fill="#3a3436" />
<path d="M283.8 210.0L285.1 207.0L287.7 205.1L290.5 207.4L289.1 210.2L286.7 211.9Z" fill="#4e484b" stroke="#d9d5d3" stroke-width="0.7"/>
<path d="M287.9 210.3L286.3 210.4L285.5 209.2L286.4 208.2L287.7 208.7Z" fill="#39323a" />
<path d="M291.1 204.9L288.9 207.5L286.1 205.5L285.9 202.4L288.3 199.6L291.9 201.5Z" fill="#4e484b" stroke="#d9d5d3" stroke-width="0.7"/>
<path d="M290.1 203.5L289.4 204.7L288.2 204.6L287.8 203.3L289.0 202.3Z" fill="#453e40" />
<path d="M283.9 210.5L282.3 213.8L279.1 215.4L276.6 212.5L277.9 209.4L280.8 209.1Z" fill="#6d6667" stroke="#d9d5d3" stroke-width="0.7"/>
<path d="M280.2 212.4L279.2 212.1L278.8 210.7L280.3 210.3L281.0 211.5Z" fill="#3a3436" />
<path d="M269.8 211.6L272.7 210.4L275.9 210.9L276.7 214.6L273.3 216.0L270.4 214.9Z" fill="#6d6667" stroke="#d9d5d3" stroke-width="0.7"/>
<path d="M272.7 211.9L274.2 212.2L273.7 213.6L272.5 214.1L271.6 212.9Z" fill="#39323a" />
<path d="M250.0 213.1L251.6 210.5L255.1 209.2L256.4 212.9L254.6 215.4L251.5 215.8Z" fill="#6d6667" stroke="#d9d5d3" stroke-width="0.7"/>
<path d="M253.4 214.5L252.4 213.9L252.6 212.7L254.0 212.7L254.5 214.0Z" fill="#453e40" />
<path d="M263.0 210.7L261.7 213.9L259.2 215.1L257.1 213.3L256.1 209.7L259.8 209.4Z" fill="#565053" stroke="#d9d5d3" stroke-width="0.7"/>
<path d="M261.1 211.2L261.6 212.9L260.1 213.2L259.3 212.5L259.6 211.4Z" fill="#3a3436" />
<path d="M253.8 214.1L257.1 214.2L259.5 215.6L259.4 218.9L255.9 220.4L254.2 217.4Z" fill="#6d6667" stroke="#d9d5d3" stroke-width="0.7"/>
<path d="M257.6 215.7L257.2 217.3L256.0 217.3L254.9 216.3L256.1 215.4Z" fill="#453e40" />
<path d="M262.2 212.7L266.0 213.7L267.7 217.1L265.3 220.2L261.8 219.1L260.1 216.0Z" fill="#4e484b" stroke="#d9d5d3" stroke-width="0.7"/>
<path d="M264.4 215.4L265.1 216.3L265.1 217.7L263.5 217.5L263.1 216.0Z" fill="#39323a" />
<path d="M270.9 215.9L271.6 218.8L268.9 220.6L265.9 219.0L266.1 215.9L268.6 214.6Z" fill="#777073" stroke="#d9d5d3" stroke-width="0.7"/>
<path d="M268.7 215.6L269.6 216.2L269.4 217.3L268.0 217.9L267.7 216.4Z" fill="#3a3436" />
<path d="M255.9 220.9L254.0 224.4L250.8 223.7L247.7 222.1L250.0 219.3L253.0 218.2Z" fill="#777073" stroke="#d9d5d3" stroke-width="0.7"/>
<path d="M251.6 222.4L251.0 221.0L251.5 219.8L252.9 220.3L252.8 221.5Z" fill="#453e40" />
<path d="M262.4 225.5L259.0 224.7L258.0 221.1L261.0 219.4L264.1 219.9L264.1 223.0Z" fill="#4e484b" stroke="#d9d5d3" stroke-width="0.7"/>
<path d="M261.2 222.2L261.3 220.8L262.7 220.7L263.6 222.0L262.3 222.8Z" fill="#8a8385" />
<path d="M257.8 229.4L254.8 230.4L252.3 227.8L254.1 225.0L257.4 223.3L259.3 226.6Z" fill="#625b5e" stroke="#d9d5d3" stroke-width="0.7"/>
<path d="M255.6 228.6L254.4 227.6L255.1 226.5L256.2 226.5L256.7 227.6Z" fill="#39323a" />
<path d="M264.6 229.8L261.0 229.5L260.6 226.3L261.5 223.2L264.5 224.4L265.6 226.7Z" fill="#777073" stroke="#d9d5d3" stroke-width="0.7"/>
<path d="M261.5 226.7L262.5 225.5L263.8 225.4L264.1 226.8L262.9 227.4Z" fill="#3a3436" />
<path d="M286.6 200.5L286.6 204.1L283.0 205.4L281.3 202.5L280.5 199.0L284.2 198.4Z" fill="#565053" stroke="#d9d5d3" stroke-width="0.7"/>
<path d="M282.5 202.6L282.1 201.4L283.2 200.5L284.2 201.5L283.8 202.7Z" fill="#39323a" />
<path d="M263.9 204.3L266.7 205.4L267.8 208.5L265.2 211.5L262.1 209.3L262.2 206.5Z" fill="#565053" stroke="#d9d5d3" stroke-width="0.7"/>
<path d="M264.9 207.2L264.0 207.8L263.1 207.1L263.4 205.8L265.1 205.7Z" fill="#3a3436" />
<path d="M269.1 212.3L267.9 215.8L264.1 215.3L262.7 212.3L264.3 209.5L267.1 210.1Z" fill="#6d6667" stroke="#d9d5d3" stroke-width="0.7"/>
<path d="M267.1 210.6L267.2 212.2L266.0 212.9L265.2 211.9L265.4 210.4Z" fill="#39323a" />
<path d="M249.8 194.6L253.1 193.2L254.0 196.7L252.8 200.0L249.4 199.1L248.5 196.6Z" fill="#6d6667" stroke="#d9d5d3" stroke-width="0.7"/>
<path d="M252.1 196.3L252.0 197.7L250.6 197.5L249.9 196.2L251.2 195.2Z" fill="#453e40" />
<path d="M255.3 206.7L252.7 209.2L249.3 208.6L248.2 205.1L250.4 202.0L254.2 203.1Z" fill="#565053" stroke="#d9d5d3" stroke-width="0.7"/>
<path d="M252.7 206.3L251.1 206.9L249.9 206.0L250.8 204.9L251.9 205.0Z" fill="#4f484a" />
<path d="M249.0 214.0L252.6 212.6L253.3 216.2L252.5 218.5L249.5 220.1L247.9 217.0Z" fill="#625b5e" stroke="#d9d5d3" stroke-width="0.7"/>
<path d="M251.0 215.9L251.8 217.4L250.4 218.4L249.4 217.4L249.4 215.9Z" fill="#453e40" />
<path d="M261.0 204.9L261.0 207.6L258.5 208.3L255.9 207.1L256.8 204.4L259.1 203.1Z" fill="#625b5e" stroke="#d9d5d3" stroke-width="0.7"/>
<path d="M259.8 205.0L259.6 206.5L258.5 207.4L257.4 206.3L258.3 205.2Z" fill="#8a8385" />
<path d="M269.8 224.4L267.3 225.5L264.4 224.6L263.7 220.8L267.3 219.4L270.8 220.9Z" fill="#565053" stroke="#d9d5d3" stroke-width="0.7"/>
<path d="M266.8 223.7L266.2 222.4L267.5 221.6L268.4 222.6L267.9 223.6Z" fill="#39323a" />
<path d="M267.9 223.4L272.1 223.8L272.8 227.7L270.4 229.6L267.4 229.8L265.6 226.7Z" fill="#6d6667" stroke="#d9d5d3" stroke-width="0.7"/>
<path d="M270.5 227.6L269.4 227.8L269.0 226.8L269.7 225.8L271.0 226.4Z" fill="#4f484a" />
<path d="M249.7 231.9L247.6 229.6L247.4 226.3L250.9 224.8L254.1 227.2L253.4 231.2Z" fill="#565053" stroke="#d9d5d3" stroke-width="0.7"/>
<path d="M250.2 227.1L251.6 227.9L250.9 229.4L249.3 229.5L249.0 228.0Z" fill="#453e40" />
<path d="M261.8 231.5L258.1 232.2L257.2 229.0L258.0 226.7L260.7 225.7L262.0 228.2Z" fill="#777073" stroke="#d9d5d3" stroke-width="0.7"/>
<path d="M259.3 229.2L258.4 228.3L259.3 227.3L260.3 227.9L260.5 229.1Z" fill="#8a8385" />
<path d="M281.2 202.8L280.1 206.3L276.1 205.4L275.5 201.8L277.7 199.7L281.4 199.1Z" fill="#4e484b" stroke="#d9d5d3" stroke-width="0.7"/>
<path d="M277.6 203.1L277.5 201.9L278.4 201.0L279.7 201.9L279.0 203.4Z" fill="#453e40" />
<path d="M284.7 208.7L281.8 206.6L283.0 203.6L285.5 201.4L288.0 203.9L287.6 207.1Z" fill="#625b5e" stroke="#d9d5d3" stroke-width="0.7"/>
<path d="M283.7 206.0L284.2 204.8L285.7 204.7L286.2 206.3L284.7 207.0Z" fill="#4f484a" />
</g></g>
<g clip-path="url(#c3)">
<rect x="200.40" y="233.10" width="41.30" height="41.40" fill="#6b5244" />
<rect x="200.4" y="233.1" width="41.3" height="41.4" filter="url(#n3)"/>
</g>
<g clip-path="url(#c4)">
<rect x="249.40" y="233.10" width="41.30" height="41.40" fill="#baaca4" />
<g filter="url(#b5)">
<path d="M242.4 225.8L245.7 226.0L245.5 227.2L245.1 227.5L242.2 229.9Z" fill="#463a52" stroke="#463a52" stroke-width="1.2" stroke-linejoin="round"/>
<ellipse cx="245.0" cy="226.3" rx="1.8" ry="2.3" fill="#7a5e46"/>
<path d="M247.7 225.5L257.5 225.5L256.0 230.1L248.0 227.1Z" fill="#5b483c" stroke="#5b483c" stroke-width="1.2" stroke-linejoin="round"/>
<ellipse cx="252.0" cy="227.9" rx="2.6" ry="1.9" fill="#4c4a68"/>
<path d="M259.6 226.0L269.2 225.8L269.7 230.1L260.3 235.1L258.2 230.6Z" fill="#5b483c" stroke="#5b483c" stroke-width="1.2" stroke-linejoin="round"/>
<ellipse cx="262.4" cy="229.9" rx="2.9" ry="2.3" fill="#4c4a68"/>
<path d="M271.3 225.7L282.1 225.7L282.8 228.9L278.5 230.6L274.1 231.0L272.1 229.9Z" fill="#544236" stroke="#544236" stroke-width="1.2" stroke-linejoin="round"/>
<ellipse cx="277.6" cy="229.0" rx="2.0" ry="2.0" fill="#3e2e26"/>
<path d="M284.2 225.7L290.2 225.7L289.6 229.9L285.2 228.4Z" fill="#3a2c28" stroke="#3a2c28" stroke-width="1.2" stroke-linejoin="round"/>
<ellipse cx="286.5" cy="227.9" rx="1.9" ry="1.6" fill="#7a5e46"/>
<path d="M292.1 226.0L297.7 225.8L297.5 228.5L292.0 230.6L291.5 230.1Z" fill="#3a2c28" stroke="#3a2c28" stroke-width="1.2" stroke-linejoin="round"/>
<ellipse cx="293.6" cy="229.1" rx="2.0" ry="2.1" fill="#6e5440"/>
<path d="M242.1 241.7L241.9 232.0L246.1 229.2L248.3 241.5L245.1 242.7Z" fill="#4a3a30" stroke="#4a3a30" stroke-width="1.2" stroke-linejoin="round"/>
<ellipse cx="244.1" cy="237.9" rx="2.4" ry="1.6" fill="#6e5440"/>
<path d="M249.8 241.3L247.1 228.9L247.5 228.1L256.2 231.9L258.5 236.0L257.5 239.6L255.4 241.5Z" fill="#3e302a" stroke="#3e302a" stroke-width="1.2" stroke-linejoin="round"/>
<ellipse cx="254.2" cy="235.2" rx="2.5" ry="2.1" fill="#6e5440"/>
<path d="M259.6 240.1L260.9 236.4L270.4 231.3L272.2 232.7L272.9 241.2L269.1 243.8Z" fill="#5b483c" stroke="#5b483c" stroke-width="1.2" stroke-linejoin="round"/>
<ellipse cx="268.2" cy="238.2" rx="2.6" ry="2.3" fill="#47476e"/>
<path d="M274.8 240.9L273.8 232.8L279.0 232.8L281.9 239.9L278.9 242.6Z" fill="#4a3a30" stroke="#4a3a30" stroke-width="1.2" stroke-linejoin="round"/>
<ellipse cx="278.4" cy="237.7" rx="2.1" ry="2.3" fill="#6e5440"/>
<path d="M283.7 239.3L280.5 231.9L284.6 230.0L289.5 231.6L290.0 232.1L291.1 238.4Z" fill="#4d3c33" stroke="#4d3c33" stroke-width="1.2" stroke-linejoin="round"/>
<ellipse cx="287.2" cy="233.2" rx="1.7" ry="2.2" fill="#3e2e26"/>
<path d="M298.1 229.7L297.9 239.6L294.1 240.4L292.9 238.4L291.9 232.5Z" fill="#4a3a30" stroke="#4a3a30" stroke-width="1.2" stroke-linejoin="round"/>
<ellipse cx="295.8" cy="235.5" rx="2.2" ry="2.0" fill="#7a5e46"/>
<path d="M241.7 256.0L241.7 244.0L244.8 245.1L244.1 254.5Z" fill="#3a2c28" stroke="#3a2c28" stroke-width="1.2" stroke-linejoin="round"/>
<ellipse cx="243.5" cy="249.9" rx="2.1" ry="1.6" fill="#3e2e26"/>
<path d="M245.2 254.8L246.1 244.8L249.4 243.6L255.0 243.7L257.0 253.6L249.8 256.9Z" fill="#544236" stroke="#544236" stroke-width="1.2" stroke-linejoin="round"/>
<ellipse cx="250.8" cy="249.3" rx="2.9" ry="2.5" fill="#514a60"/>
<path d="M259.0 253.3L256.7 243.6L258.9 241.6L268.4 245.7L268.7 252.7L267.0 254.0L260.5 254.4Z" fill="#4a3a30" stroke="#4a3a30" stroke-width="1.2" stroke-linejoin="round"/>
<ellipse cx="263.2" cy="249.4" rx="2.1" ry="2.3" fill="#6e5440"/>
<path d="M270.8 252.6L270.5 245.6L274.3 243.1L278.5 244.9L281.2 252.5L280.4 254.0Z" fill="#4a3a30" stroke="#4a3a30" stroke-width="1.2" stroke-linejoin="round"/>
<ellipse cx="275.0" cy="248.3" rx="2.1" ry="1.9" fill="#3e2e26"/>
<path d="M282.9 252.2L280.4 244.0L284.0 241.3L291.2 240.2L292.7 242.1L292.2 248.3Z" fill="#3e302a" stroke="#3e302a" stroke-width="1.2" stroke-linejoin="round"/>
<ellipse cx="286.9" cy="244.0" rx="2.5" ry="2.1" fill="#6e5440"/>
<path d="M298.4 241.7L298.3 253.5L298.1 253.5L294.4 248.7L294.3 242.8Z" fill="#5b483c" stroke="#5b483c" stroke-width="1.2" stroke-linejoin="round"/>
<ellipse cx="296.8" cy="247.5" rx="2.0" ry="2.1" fill="#7a5e46"/>
<path d="M242.4 265.0L242.2 258.1L244.7 256.9L248.9 259.0L249.8 266.4L248.6 268.5Z" fill="#4a3a30" stroke="#4a3a30" stroke-width="1.2" stroke-linejoin="round"/>
<ellipse cx="246.7" cy="261.8" rx="2.0" ry="1.9" fill="#3e2e26"/>
<path d="M251.4 266.3L250.9 258.6L257.7 255.4L259.2 256.5L259.1 262.5L256.8 264.7Z" fill="#4a3a30" stroke="#4a3a30" stroke-width="1.2" stroke-linejoin="round"/>
<ellipse cx="256.4" cy="261.5" rx="1.7" ry="1.7" fill="#3e2e26"/>
<path d="M261.4 262.9L260.8 256.5L267.5 256.1L270.3 267.7L269.6 268.4Z" fill="#4a3a30" stroke="#4a3a30" stroke-width="1.2" stroke-linejoin="round"/>
<ellipse cx="265.1" cy="261.9" rx="2.5" ry="2.2" fill="#3e2e26"/>
<path d="M271.7 267.5L268.9 255.7L270.6 254.3L280.2 255.8L281.1 262.7L279.1 265.1Z" fill="#3e302a" stroke="#3e302a" stroke-width="1.2" stroke-linejoin="round"/>
<ellipse cx="274.8" cy="259.9" rx="2.2" ry="2.1" fill="#3e2e26"/>
<path d="M283.1 262.3L282.4 255.3L283.3 253.9L292.5 250.2L297.3 254.9L293.3 264.3Z" fill="#4a3a30" stroke="#4a3a30" stroke-width="1.2" stroke-linejoin="round"/>
<ellipse cx="288.0" cy="257.5" rx="1.7" ry="2.1" fill="#6e5440"/>
<path d="M298.4 255.9L298.3 266.3L295.0 265.2L294.7 264.4L298.2 255.9Z" fill="#4d3c33" stroke="#4d3c33" stroke-width="1.2" stroke-linejoin="round"/>
<ellipse cx="296.6" cy="262.7" rx="2.5" ry="2.2" fill="#454262"/>
<path d="M242.2 276.2L242.0 266.8L248.1 270.4L247.8 272.4L244.6 275.7Z" fill="#4d3c33" stroke="#4d3c33" stroke-width="1.2" stroke-linejoin="round"/>
<ellipse cx="244.6" cy="271.8" rx="2.6" ry="1.5" fill="#7a5e46"/>
<path d="M258.4 277.7L250.3 272.3L250.3 270.1L251.5 268.2L256.6 267.1L262.0 276.4Z" fill="#4d3c33" stroke="#4d3c33" stroke-width="1.2" stroke-linejoin="round"/>
<ellipse cx="253.8" cy="272.0" rx="1.9" ry="1.9" fill="#3e2e26"/>
<path d="M263.3 275.8L258.1 266.7L260.7 264.2L269.1 269.8L266.8 275.3L266.7 275.4Z" fill="#4a3a30" stroke="#4a3a30" stroke-width="1.2" stroke-linejoin="round"/>
<ellipse cx="263.5" cy="272.3" rx="1.7" ry="1.8" fill="#6e5440"/>
<path d="M279.5 279.5L268.6 275.9L271.3 270.1L272.0 269.5L279.2 267.1L282.1 274.6Z" fill="#3e302a" stroke="#3e302a" stroke-width="1.2" stroke-linejoin="round"/>
<ellipse cx="276.2" cy="272.6" rx="2.4" ry="1.8" fill="#3e2e26"/>
<path d="M284.0 274.0L281.1 266.5L283.1 264.1L292.8 266.0L293.3 266.7L292.1 275.5Z" fill="#3a2c28" stroke="#3a2c28" stroke-width="1.2" stroke-linejoin="round"/>
<ellipse cx="287.9" cy="269.5" rx="2.6" ry="2.3" fill="#47476e"/>
<path d="M298.1 268.6L298.1 278.5L294.0 276.9L293.6 275.7L294.6 267.5Z" fill="#4a3a30" stroke="#4a3a30" stroke-width="1.2" stroke-linejoin="round"/>
<ellipse cx="296.6" cy="274.2" rx="2.8" ry="2.0" fill="#47476e"/>
<path d="M245.6 281.7L242.1 281.5L242.2 278.1L244.0 278.2Z" fill="#3a2c28" stroke="#3a2c28" stroke-width="1.2" stroke-linejoin="round"/>
<ellipse cx="243.7" cy="279.7" rx="2.4" ry="1.8" fill="#3e2e26"/>
<path d="M256.4 281.8L247.5 281.7L245.6 277.3L249.5 273.6L257.9 278.7Z" fill="#544236" stroke="#544236" stroke-width="1.2" stroke-linejoin="round"/>
<ellipse cx="251.6" cy="279.6" rx="2.1" ry="1.9" fill="#47476e"/>
<path d="M267.6 281.9L258.5 281.9L260.3 279.0L263.1 278.3L266.3 277.2Z" fill="#3e302a" stroke="#3e302a" stroke-width="1.2" stroke-linejoin="round"/>
<ellipse cx="262.8" cy="278.8" rx="2.1" ry="1.7" fill="#7a5e46"/>
<path d="M279.6 282.1L269.7 281.8L268.4 277.1L268.5 277.0L278.9 280.4Z" fill="#4a3a30" stroke="#4a3a30" stroke-width="1.2" stroke-linejoin="round"/>
<ellipse cx="273.9" cy="279.8" rx="2.4" ry="2.5" fill="#514a60"/>
<path d="M290.0 281.7L281.9 281.9L281.4 280.3L284.1 275.9L291.6 277.1L292.2 278.2Z" fill="#463a52" stroke="#463a52" stroke-width="1.2" stroke-linejoin="round"/>
<ellipse cx="286.9" cy="279.7" rx="2.6" ry="2.4" fill="#4c4a68"/>
<path d="M297.5 280.0L297.6 281.9L292.1 282.0L294.2 279.0Z" fill="#544236" stroke="#544236" stroke-width="1.2" stroke-linejoin="round"/>
<ellipse cx="294.8" cy="281.3" rx="2.4" ry="2.3" fill="#7a5e46"/>
</g>
<rect x="249.4" y="233.1" width="41.3" height="41.4" filter="url(#n4)" opacity="0.3"/>
</g>
<rect x="231.5" y="219.6" width="10.6" height="10.5" fill="none" stroke="#db3640" stroke-width="0.85"/>
<path d="M241.6 226.90H244.6V225.70L248.3 227.9L244.6 230.10V228.90H241.6Z" fill="#e0051a"/>
<rect x="231.5" y="264.2" width="10.6" height="10.5" fill="none" stroke="#db3640" stroke-width="0.85"/>
<path d="M241.6 267.40H244.6V266.20L248.3 268.4L244.6 270.60V269.40H241.6Z" fill="#e0051a"/>
<text x="279.80" y="283.50" font-size="6.6" text-anchor="middle" fill="#d7182a" textLength="18.2" lengthAdjust="spacingAndGlyphs">10 µM</text>
<line x1="274.20" y1="286.60" x2="284.90" y2="286.60" stroke="#d7182a" stroke-width="0.9"/>
<text x="183.60" y="216.90" font-size="6.3" text-anchor="middle" textLength="21" lengthAdjust="spacingAndGlyphs">Normal</text>
<text x="183.00" y="225.50" font-size="6.3" text-anchor="middle" textLength="16" lengthAdjust="spacingAndGlyphs">Donor</text>
<text x="183.90" y="258.20" font-size="6.3" text-anchor="middle" textLength="23" lengthAdjust="spacingAndGlyphs">Multiple</text>
<text x="183.30" y="265.00" font-size="6.3" text-anchor="middle" textLength="25" lengthAdjust="spacingAndGlyphs">Myeloma</text>
<rect x="359.05" y="227.25" width="2.10" height="2.10" fill="#a50d2d" />
<rect x="362.85" y="228.85" width="2.10" height="2.10" fill="#a50d2d" />
<rect x="350.05" y="230.75" width="2.10" height="2.10" fill="#a50d2d" />
<rect x="353.55" y="230.95" width="2.10" height="2.10" fill="#a50d2d" />
<rect x="357.15" y="231.95" width="2.10" height="2.10" fill="#a50d2d" />
<rect x="360.95" y="232.75" width="2.10" height="2.10" fill="#a50d2d" />
<rect x="364.75" y="231.95" width="2.10" height="2.10" fill="#a50d2d" />
<rect x="368.35" y="231.45" width="2.10" height="2.10" fill="#a50d2d" />
<rect x="371.85" y="230.95" width="2.10" height="2.10" fill="#a50d2d" />
<rect x="353.55" y="234.55" width="2.10" height="2.10" fill="#a50d2d" />
<rect x="357.15" y="234.75" width="2.10" height="2.10" fill="#a50d2d" />
<rect x="364.75" y="234.75" width="2.10" height="2.10" fill="#a50d2d" />
<rect x="368.35" y="234.35" width="2.10" height="2.10" fill="#a50d2d" />
<rect x="353.85" y="237.95" width="2.10" height="2.10" fill="#a50d2d" />
<rect x="357.15" y="238.25" width="2.10" height="2.10" fill="#a50d2d" />
<rect x="360.95" y="237.65" width="2.10" height="2.10" fill="#a50d2d" />
<rect x="364.75" y="238.55" width="2.10" height="2.10" fill="#a50d2d" />
<rect x="368.35" y="238.15" width="2.10" height="2.10" fill="#a50d2d" />
<rect x="360.95" y="240.95" width="2.10" height="2.10" fill="#a50d2d" />
<rect x="353.55" y="243.55" width="2.10" height="2.10" fill="#a50d2d" />
<rect x="357.15" y="243.75" width="2.10" height="2.10" fill="#a50d2d" />
<rect x="364.75" y="243.75" width="2.10" height="2.10" fill="#a50d2d" />
<rect x="368.35" y="243.35" width="2.10" height="2.10" fill="#a50d2d" />
<rect x="360.95" y="246.65" width="2.10" height="2.10" fill="#a50d2d" />
<rect x="362.85" y="249.25" width="2.10" height="2.10" fill="#a50d2d" />
<rect x="359.05" y="251.85" width="2.10" height="2.10" fill="#a50d2d" />
<path d="M393.45 217.90L394.70 215.70L395.95 217.90Z" fill="#2b3f7c"/>
<path d="M394.75 217.90L396.00 215.70L397.25 217.90Z" fill="#2b3f7c"/>
<path d="M396.05 217.90L397.30 215.70L398.55 217.90Z" fill="#2b3f7c"/>
<path d="M397.35 217.90L398.60 215.70L399.85 217.90Z" fill="#2b3f7c"/>
<path d="M404.95 217.90L406.20 215.70L407.45 217.90Z" fill="#2b3f7c"/>
<path d="M408.25 217.70L409.50 215.50L410.75 217.70Z" fill="#2b3f7c"/>
<path d="M416.45 217.90L417.70 215.70L418.95 217.90Z" fill="#2b3f7c"/>
<path d="M417.75 217.90L419.00 215.70L420.25 217.90Z" fill="#2b3f7c"/>
<path d="M419.15 217.90L420.40 215.70L421.65 217.90Z" fill="#2b3f7c"/>
<path d="M420.45 217.90L421.70 215.70L422.95 217.90Z" fill="#2b3f7c"/>
<path d="M398.75 218.80L400.00 216.60L401.25 218.80Z" fill="#2b3f7c"/>
<path d="M400.05 219.50L401.30 217.30L402.55 219.50Z" fill="#2b3f7c"/>
<path d="M401.35 220.20L402.60 218.00L403.85 220.20Z" fill="#2b3f7c"/>
<path d="M402.75 220.80L404.00 218.60L405.25 220.80Z" fill="#2b3f7c"/>
<path d="M404.25 221.20L405.50 219.00L406.75 221.20Z" fill="#2b3f7c"/>
<path d="M406.75 221.40L408.00 219.20L409.25 221.40Z" fill="#2b3f7c"/>
<path d="M409.35 221.20L410.60 219.00L411.85 221.20Z" fill="#2b3f7c"/>
<path d="M415.15 218.80L416.40 216.60L417.65 218.80Z" fill="#2b3f7c"/>
<path d="M413.85 219.50L415.10 217.30L416.35 219.50Z" fill="#2b3f7c"/>
<path d="M412.55 220.20L413.80 218.00L415.05 220.20Z" fill="#2b3f7c"/>
<path d="M411.15 220.80L412.40 218.60L413.65 220.80Z" fill="#2b3f7c"/>
<path d="M397.35 223.20L398.60 221.00L399.85 223.20Z" fill="#2b3f7c"/>
<path d="M400.95 223.60L402.20 221.40L403.45 223.60Z" fill="#2b3f7c"/>
<path d="M412.45 223.60L413.70 221.40L414.95 223.60Z" fill="#2b3f7c"/>
<path d="M415.85 223.20L417.10 221.00L418.35 223.20Z" fill="#2b3f7c"/>
<path d="M404.95 225.40L406.20 223.20L407.45 225.40Z" fill="#2b3f7c"/>
<path d="M408.35 225.40L409.60 223.20L410.85 225.40Z" fill="#2b3f7c"/>
<path d="M408.45 229.90L409.70 227.70L410.95 229.90Z" fill="#2b3f7c"/>
<path d="M404.95 233.00L406.20 230.80L407.45 233.00Z" fill="#2b3f7c"/>
<line x1="346.80" y1="238.40" x2="377.10" y2="238.40" stroke="#000" stroke-width="1.2"/>
<line x1="392.90" y1="220.10" x2="423.00" y2="220.10" stroke="#000" stroke-width="1.2"/>
<rect x="355.20" y="237.50" width="14.20" height="1.90" fill="#1a1416" />
<rect x="401.60" y="219.20" width="12.80" height="1.90" fill="#11101a" />
<line x1="337.80" y1="193.20" x2="337.80" y2="257.80" stroke="#000" stroke-width="0.9"/>
<line x1="337.40" y1="257.40" x2="430.20" y2="257.40" stroke="#000" stroke-width="0.9"/>
<line x1="334.80" y1="257.40" x2="337.80" y2="257.40" stroke="#000" stroke-width="0.8"/>
<text transform="translate(332.80 259.90) scale(0.9 1)" x="0" y="0" font-size="7.0" text-anchor="end">0</text>
<line x1="334.80" y1="237.00" x2="337.80" y2="237.00" stroke="#000" stroke-width="0.8"/>
<text transform="translate(332.80 239.50) scale(0.9 1)" x="0" y="0" font-size="7.0" text-anchor="end">50</text>
<line x1="334.80" y1="216.60" x2="337.80" y2="216.60" stroke="#000" stroke-width="0.8"/>
<text transform="translate(332.80 219.10) scale(0.9 1)" x="0" y="0" font-size="7.0" text-anchor="end">100</text>
<line x1="334.80" y1="196.20" x2="337.80" y2="196.20" stroke="#000" stroke-width="0.8"/>
<text transform="translate(332.80 198.70) scale(0.9 1)" x="0" y="0" font-size="7.0" text-anchor="end">150</text>
<line x1="362.70" y1="257.40" x2="362.70" y2="259.80" stroke="#000" stroke-width="0.8"/>
<line x1="407.70" y1="257.40" x2="407.70" y2="259.80" stroke="#000" stroke-width="0.8"/>
<path d="M363.1 217.7V203.7H410.4V210" fill="none" stroke="#000" stroke-width="0.9"/>
<text x="386.50" y="200.70" font-size="5.3" text-anchor="middle">P&lt;0.01</text>
<text transform="translate(307.40 225.60) rotate(-90)" x="0" y="0" font-size="9" text-anchor="middle" textLength="62.3" lengthAdjust="spacingAndGlyphs">GCK positively scored</text>
<text transform="translate(317.00 225.60) rotate(-90)" x="0" y="0" font-size="9" text-anchor="middle" textLength="18.5" lengthAdjust="spacingAndGlyphs">cells%</text>
<text x="361.90" y="268.40" font-size="6.5" text-anchor="middle" textLength="21.2" lengthAdjust="spacingAndGlyphs">Normal</text>
<text x="362.10" y="276.10" font-size="6.5" text-anchor="middle" textLength="17.7" lengthAdjust="spacingAndGlyphs">Donor</text>
<text x="407.70" y="268.40" font-size="6.5" text-anchor="middle" textLength="23" lengthAdjust="spacingAndGlyphs">Multiple</text>
<text x="407.60" y="276.10" font-size="6.5" text-anchor="middle" textLength="26" lengthAdjust="spacingAndGlyphs">Myeloma</text>
</g>
</g>
</svg>
</body></html>
